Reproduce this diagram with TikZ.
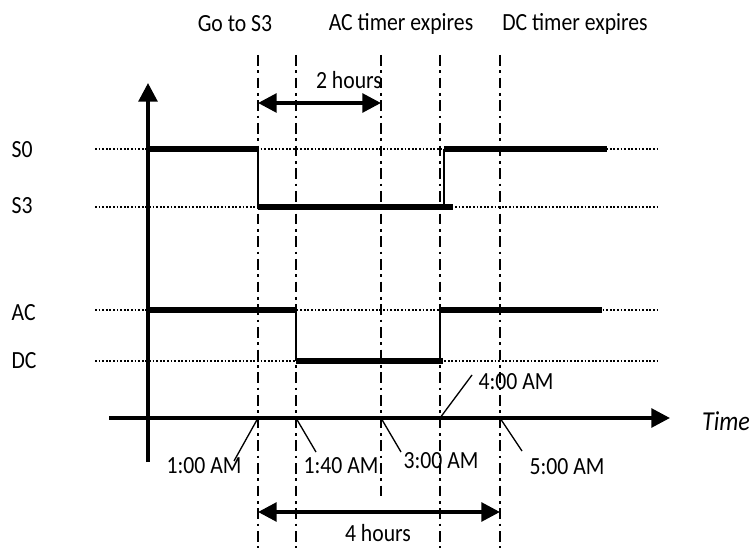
\documentclass[tikz,border=0pt]{standalone}
\usepackage{fontspec}
\setmainfont{Carlito}[FakeStretch=0.88]
\usepackage{tikz}
\usetikzlibrary{arrows.meta, positioning, calc}

\tikzset{
  axis/.style={line width=2.8pt, -{Triangle[length=14pt, width=14pt]}},
  level/.style={line width=1.6pt, dash pattern=on 1.4pt off 1.3pt},
  sig/.style={line width=4.6pt},
  edge/.style={line width=1.4pt},
  event/.style={line width=2pt, dash pattern=on 8pt off 3.5pt on 2pt off 3.5pt},
  span/.style={line width=2.8pt, {Triangle[length=14pt, width=14pt]}-{Triangle[length=14pt, width=14pt]}},
  lead/.style={line width=1pt},
  lbl/.style={font=\fontsize{18.5}{20}\selectfont, inner sep=1pt}
}

\begin{document}
\begin{tikzpicture}[x=0.75pt, y=-0.75pt]
\useasboundingbox (0,0) rectangle (756,548);

% time points on the axis
\coordinate (t1) at (258,418);
\coordinate (t2) at (296,418);
\coordinate (t3) at (381,418);
\coordinate (t4) at (440,418);
\coordinate (t5) at (500,418);

% event lines
\draw[event] (258,55) -- (258,548);
\draw[event] (296,55) -- (296,548);
\draw[event] (381,55) -- (381,497);
\draw[event] (440,55) -- (440,548);
\draw[event] (500,55) -- (500,548);

% state levels
\node[lbl, anchor=west] (s0) at (10,150) {S0};
\node[lbl, anchor=west] (s3) at (10,206) {S3};
\node[lbl, anchor=west] (ac) at (10,313) {AC};
\node[lbl, anchor=west] (dc) at (10,361) {DC};
\foreach \y in {149,207,310,361}
  \draw[level] (95,\y) -- (660,\y);

% axes
\draw[axis] (148,462) -- (148,83);
\draw[axis] (109,418) -- (670,418);
\node[lbl, font=\fontsize{20.5}{22}\selectfont\itshape] (time) at (726,421) {Time};

% S0 / S3
\draw[sig] (148,149) -- (258,149);
\draw[edge] (258,149) -- (258,207);
\draw[sig] (258,207) -- (453,207);
\draw[edge] (444,207) -- (444,149);
\draw[sig] (444,149) -- (607,149);

% AC / DC
\draw[sig] (148,310) -- (296,310);
\draw[edge] (296,310) -- (296,361);
\draw[sig] (296,361) -- (443,361);
\draw[edge] (440,361) -- (440,310);
\draw[sig] (440,310) -- (602,310);

% events
\node[lbl] (go) at (235,24) {Go to S3};
\node[lbl] (acexp) at (401,24) {AC timer expires};
\node[lbl] (dcexp) at (575,24) {DC timer expires};

% durations
\draw[span] (258,103) -- (381,103);
\node[lbl] (two) at (349,80) {2 hours};
\draw[span] (258,512) -- (500,512);
\node[lbl] (four) at (378,533) {4 hours};

% times
\node[lbl] (l1) at (204,466) {1:00 AM};
\node[lbl] (l2) at (341,466) {1:40 AM};
\node[lbl] (l3) at (441,461) {3:00 AM};
\node[lbl] (l4) at (516,382) {4:00 AM};
\node[lbl] (l5) at (567,467) {5:00 AM};
\coordinate (e1) at (234,461);
\coordinate (e2) at (316,452);
\coordinate (e3) at (401,452);
\coordinate (e4) at (472,375);
\coordinate (e5) at (522,451);
\foreach \i in {1,...,5}
  \draw[lead] (t\i) -- (e\i);
\end{tikzpicture}
\end{document}
